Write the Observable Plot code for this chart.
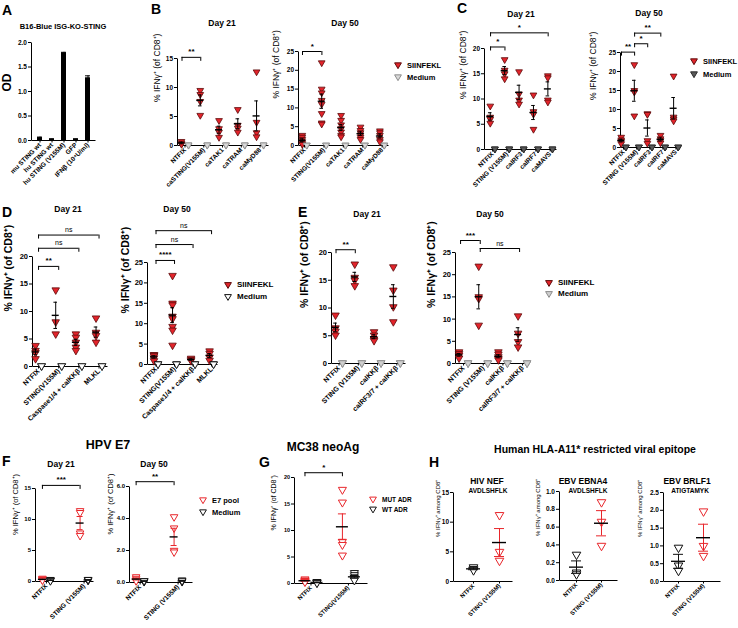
<!DOCTYPE html>
<html><head><meta charset="utf-8">
<script src="https://cdn.jsdelivr.net/npm/d3@7"></script>
<script src="https://cdn.jsdelivr.net/npm/@observablehq/plot@0.6"></script>
<style>
body{margin:0;background:#fff;}
#fig{position:relative;width:738px;height:628px;overflow:hidden;font-family:"Liberation Sans",Arial,Helvetica,sans-serif;color:#000;background:#fff;}
.t{position:absolute;white-space:nowrap;font-weight:bold;line-height:1;}
#fig svg{position:absolute;overflow:visible;}
</style></head><body><div id="fig"></div>
<script>
// ---------- DATA ----------
// Panel A
const aCategories = ["mu STING wt","hu STING wt","hu STING (V155M)","GFP","IFNβ (10⁴U/ml)"];
const aOD = [0.06,0.03,1.79,0.03,1.28];
const aErr = [0.01,0.005,0.01,0.005,0.04];
const aTicks = [0,0.5,1,1.5,2];
// Panel B
const bCats21 = ["NTFIX","caSTING(V155M)","caTAK1","caTRAM","caMyD88"];
const bSiin21 = [[0.7,0.4,0.2],[9.5,8.8,7.6,5.2],[4.3,2.9,2.3,1.4],[6.2,3.5,3.0,2.3],[12.7,4.0,2.2,1.5]];
const bMed21 = [[0.1,0.05,0.1],[0.1,0.05,0.1],[0.1,0.05,0.1],[0.1,0.05,0.1],[0.1,0.05,0.1]];
const bCats50 = ["NTFIX","STING(V155M)","caTAK1","caTRAM","caMyD88"];
const bSiin50 = [[2.7,2.2,1.6,1.0,0.5,0.3],[22,15,14,12,11,8.5,6,5.7],[8.0,6.7,5.5,4.5,3.6,2.7,2.3],[4.9,4.0,3.4,2.8,2.2,1.6],[3.9,3.4,2.7,1.6,1.0]];
const bMed50 = [[0.1,0.05,0.1],[0.1,0.05,0.1],[0.1,0.05,0.1],[0.1,0.05,0.1],[0.1,0.05,0.1]];
const bBr21 = [{from:"NTFIX",to:"caSTING(V155M)",y:15.2,label:"**"}];
const bBr50 = [{from:"NTFIX",to:"STING(V155M)",y:25,label:"*"}];
// Panel C
const cCats = ["NTFIX","STING (V155M)","caIRF3","caIRF7","caMAVS"];
const cSiin21 = [[8.6,6.4,6.0,5.2],[17.8,15.7,15.0,14.0],[15.4,11.0,9.8,9.0],[10.8,7.5,7.0,4.0],[14.6,14.2,9.8,9.4]];
const cMed21 = [[0.1,0.1,0.1],[0.1,0.1,0.1],[0.1,0.1,0.1],[0.1,0.1,0.1],[0.1,0.1,0.1]];
const cSiin50 = [[2.7,2.0,1.6,1.0],[21.8,15.0,14.6,8.3],[8.9,8.7,1.8,1.1],[3.2,2.3,1.8,1.2],[18.8,8.0,7.5,7.0]];
const cMed50 = [[0.1,0.1,0.1],[0.1,0.1,0.1],[0.1,0.1,0.1],[0.1,0.1,0.1],[0.1,0.1,0.1]];
const cBr21 = [{from:"NTFIX",to:"STING (V155M)",y:20.3,label:"*"},{from:"NTFIX",to:"caMAVS",y:23.1,label:"*"}];
const cBr50 = [{from:"NTFIX",to:"STING (V155M)",y:25.1,label:"**"},{from:"STING (V155M)",to:"caIRF3",y:27.3,label:"*"},{from:"STING (V155M)",to:"caIRF7",y:30.1,label:"**"}];
// Panel D
const dCats = ["NTFIX","STING(V155M)","Caspase1/4 + caIKKβ","MLKL"];
const dSiin21 = [[3.8,2.9,2.5,1.4],[13.9,8.1,5.9],[5.9,5.3,4.4,3.5,2.9],[8.8,6.2,5.6,4.4]];
const dMed21 = [[0.1,0.1,0.1],[0.1,0.1,0.1],[0.1,0.1,0.1],[0.1,0.1,0.1]];
const dSiin50 = [[2.4,2.3,2.1,1.6,0.9],[21.8,15.0,14.6,11.8,11.2,9.3,8.4,4.7],[1.5,1.2,0.9],[3.3,2.7,1.8,1.0]];
const dMed50 = [[0.1,0.1,0.1],[0.1,0.1,0.1],[0.1,0.1,0.1],[0.1,0.1,0.1]];
const dBr21 = [{from:"NTFIX",to:"STING(V155M)",y:18.2,label:"**"},{from:"NTFIX",to:"Caspase1/4 + caIKKβ",y:21.5,label:"ns"},{from:"NTFIX",to:"MLKL",y:23.9,label:"ns"}];
const dBr50 = [{from:"NTFIX",to:"STING(V155M)",y:25.5,label:"****"},{from:"NTFIX",to:"Caspase1/4 + caIKKβ",y:29.4,label:"ns"},{from:"NTFIX",to:"MLKL",y:32.8,label:"ns"}];
// Panel E
const eCats = ["NTFIX","STING (V155M)","caIKKβ","caIRF3/7 + caIKKβ"];
const eSiin21 = [[8.7,6.4,5.8,5.1],[17.9,15.5,15.0,14.0],[5.7,5.1,4.4,4.1],[17.4,13.2,10.2,7.5]];
const eMed21 = [[0.1,0.1,0.1],[0.1,0.1,0.1],[0.1,0.1,0.1],[0.1,0.1,0.1]];
const eSiin50 = [[2.6,2.2,1.8,1.2],[21.9,15.0,14.6,8.6],[2.6,2.1,1.5,1.1,0.8],[10.7,6.8,4.9,3.7]];
const eMed50 = [[0.1,0.1,0.1],[0.1,0.1,0.1],[0.1,0.1,0.1],[0.1,0.1,0.1]];
const eBr21 = [{from:"NTFIX",to:"STING (V155M)",y:20.5,label:"**"}];
const eBr50 = [{from:"NTFIX",to:"STING (V155M)",y:27.7,label:"***"},{from:"STING (V155M)",to:"caIRF3/7 + caIKKβ",y:25.9,label:"ns"}];
// Panel F
const fCats = ["NTFIX","STING (V155M)"];
const fE7_21 = [[0.5,0.4,0.3,0.2],[11.4,11.1,7.8,7.4]];
const fMed21 = [[0.3,0.2,0.2,0.1],[0.3,0.2,0.2,0.3]];
const fE7_50 = [[0.35,0.25,0.15,0.1],[4.1,3.4,2.0,1.9]];
const fMed50 = [[0.1,0.1,0.05,0.1],[0.1,0.15,0.05,0.1]];
const fBr21 = [{from:"NTFIX",to:"STING (V155M)",y:15.5,label:"***"}];
const fBr50 = [{from:"NTFIX",to:"STING (V155M)",y:6.3,label:"**"}];
// Panel G
const gCats = ["NTFIX","STING(V155M)"];
const gMut = [[0.8,0.6,0.5,0.4,0.3],[17.7,15.3,7.9,7.3,5.3]];
const gWt = [[0.3,0.2,0.2,0.1],[2.0,1.6,1.2,0.9,0.6]];
const gBr = [{from:"NTFIX",to:"STING(V155M)",y:20.9,label:"*"}];
// Panel H
const hCats = ["NTFIX","STING (V155M)"];
const hNefNT = [2.4,2.1,1.9], hNefST = [11.2,5.0,3.5];
const hEbnaNT = [0.29,0.09,0.07], hEbnaST = [0.88,0.66,0.39];
const hBrlfNT = [0.95,0.45,0.3], hBrlfST = [1.97,1.0,0.72];

// ---------- STYLE ----------
const FONT = '"Liberation Sans", Arial, Helvetica, sans-serif';
const RED = "#e3242b", REDS = "#5c0a0a", OPENRED = "#e8262b";
const YLAB = "% IFNγ⁺ (of CD8⁺)";
const YLABH = "% IFNγ⁺ among CD8⁺";
const fig = document.getElementById("fig");

function txt(s, x, y, size, center = true, weight = "bold") {
  const d = document.createElement("div");
  d.className = "t";
  d.textContent = s;
  d.style.left = x + "px"; d.style.top = y + "px";
  d.style.fontSize = size + "px"; d.style.fontWeight = weight;
  d.style.transform = center ? "translate(-50%,-50%)" : "translate(0,-50%)";
  fig.appendChild(d);
}
function legend(x, y, label, fill, stroke, size) {
  const d = document.createElement("div");
  d.className = "t";
  d.style.left = x + "px"; d.style.top = y + "px"; d.style.fontSize = size + "px";
  d.style.transform = "translate(0,-50%)";
  d.style.display = "flex"; d.style.alignItems = "center";
  d.innerHTML = `<svg width="8" height="7" style="position:static;margin-right:5px"><polygon points="0.6,0.6 7.4,0.6 4,6.4" fill="${fill}" stroke="${stroke}" stroke-width="1"/></svg><span>${label}</span>`;
  fig.appendChild(d);
}
function place(svg, x, y) { svg.style.left = x + "px"; svg.style.top = y + "px"; fig.appendChild(svg); }

function scatter(o) {
  const W = o.right - o.left, H = o.bottom - o.top;
  const mL = 45, mR = 10, mT = 40, mB = 75;
  const step = W / (o.xDomain[1] - o.xDomain[0]);
  const cap = (o.cap ?? 1.8) / step, mw = (o.meanW ?? 3.5) / step;
  const marks = [Plot.frame({fill: "none", stroke: "#000", strokeWidth: 1, strokeDasharray: `0,${W + H},${W + H}`})];
  for (const s of o.series) {
    const rows = [], summ = [];
    s.values.forEach((vals, i) => {
      if (!vals.length) return;
      vals.forEach(v => rows.push({i, v}));
      const m = d3.mean(vals), se = vals.length > 1 ? d3.deviation(vals) / Math.sqrt(vals.length) : 0;
      summ.push({i, m, lo: Math.max(0, m - se), hi: m + se});
    });
    marks.push(Plot.dot(rows, {x: "i", y: "v", symbol: "triangle", rotate: 180, r: o.r ?? 2.5, fill: s.fill, stroke: s.stroke, strokeWidth: s.sw ?? 0.8, dx: s.dx}));
    if (s.err !== false) {
      const ec = s.errColor ?? "#000";
      marks.push(Plot.ruleX(summ, {x: "i", y1: "lo", y2: "hi", stroke: ec, strokeWidth: 1, dx: s.dx}));
      marks.push(Plot.ruleY(summ, {y: "lo", x1: d => d.i - cap, x2: d => d.i + cap, stroke: ec, strokeWidth: 1, dx: s.dx}));
      marks.push(Plot.ruleY(summ, {y: "hi", x1: d => d.i - cap, x2: d => d.i + cap, stroke: ec, strokeWidth: 1, dx: s.dx}));
      marks.push(Plot.ruleY(summ, {y: "m", x1: d => d.i - mw, x2: d => d.i + mw, stroke: s.meanColor ?? "#000", strokeWidth: 1.4, dx: s.dx}));
    }
  }
  if (o.brackets) {
    const br = o.brackets.map(b => ({a: o.cats.indexOf(b.from), b: o.cats.indexOf(b.to), y: b.y, label: b.label}));
    const drop = (o.drop ?? 4) * o.yMax / H;
    const bdx = o.brDx ?? 0;
    marks.push(Plot.ruleY(br, {y: "y", x1: "a", x2: "b", dx: bdx, stroke: "#000", strokeWidth: 1}));
    marks.push(Plot.ruleX(br, {x: "a", y1: d => d.y - drop, y2: "y", dx: bdx, stroke: "#000", strokeWidth: 1}));
    marks.push(Plot.ruleX(br, {x: "b", y1: d => d.y - drop, y2: "y", dx: bdx, stroke: "#000", strokeWidth: 1}));
    marks.push(Plot.text(br.filter(d => d.label !== "ns"), {x: d => (d.a + d.b) / 2, y: "y", text: "label", dy: -3, dx: bdx, fontSize: o.starSize ?? 8, fontWeight: "bold", lineAnchor: "bottom", fill: "#000"}));
    marks.push(Plot.text(br.filter(d => d.label === "ns"), {x: d => (d.a + d.b) / 2, y: "y", text: "label", dy: -3, dx: bdx, fontSize: o.nsSize ?? 7, lineAnchor: "bottom", fill: "#000"}));
  }
  marks.push(Plot.axisX({ticks: o.cats.map((_, i) => i), tickFormat: i => o.cats[i], tickRotate: -45, tickSize: 2.5, tickPadding: 1, fontSize: o.xFont ?? 6.5, fontWeight: "bold", label: null}));
  marks.push(Plot.axisY({ticks: o.yTicks, tickFormat: o.yFmt, tickSize: 3, tickPadding: 1.5, fontSize: o.yFont ?? 6.5, fontWeight: "bold", label: null}));
  marks.push(Plot.text([o.ylabel], {text: d => d, frameAnchor: "left", rotate: -90, dx: -o.labelOffset, fontSize: o.labelSize ?? 8, fontWeight: o.labelWeight ?? "normal", fill: "#000"}));
  const svg = Plot.plot({
    width: W + mL + mR, height: H + mT + mB,
    marginLeft: mL, marginRight: mR, marginTop: mT, marginBottom: mB,
    x: {type: "linear", domain: o.xDomain},
    y: {type: "linear", domain: [0, o.yMax]},
    style: {fontFamily: FONT, background: "transparent", overflow: "visible", color: "#000"},
    marks
  });
  place(svg, o.left - mL, o.top - mT);
}

// ---------- PANEL A ----------
(function () {
  const L = 31, R = 95, T = 42, B = 140, W = R - L, H = B - T;
  const mL = 45, mR = 10, mT = 30, mB = 75;
  const rows = aCategories.map((c, i) => ({c, v: aOD[i], e: aErr[i]}));
  const svg = Plot.plot({
    width: W + mL + mR, height: H + mT + mB,
    marginLeft: mL, marginRight: mR, marginTop: mT, marginBottom: mB,
    x: {type: "band", domain: aCategories, paddingInner: 0.62, paddingOuter: 0.33},
    y: {domain: [0, 2]},
    style: {fontFamily: FONT, background: "transparent", overflow: "visible", color: "#000"},
    marks: [
      Plot.frame({fill: "none", stroke: "#000", strokeWidth: 1, strokeDasharray: `0,${W + H},${W + H}`}),
      Plot.barY(rows, {x: "c", y: "v", fill: "#000"}),
      Plot.ruleX(rows, {x: "c", y1: d => d.v - d.e, y2: d => d.v + d.e, stroke: "#000"}),
      Plot.tickY(rows, {x: "c", y: d => d.v + d.e, stroke: "#000"}),
      Plot.axisX({tickRotate: -45, tickSize: 2.5, tickPadding: 1, fontSize: 6.5, fontWeight: "bold", label: null}),
      Plot.axisY({ticks: aTicks, tickFormat: ".1f", tickSize: 3, tickPadding: 1.5, fontSize: 6.5, fontWeight: "bold", label: null}),
      Plot.text(["OD"], {text: d => d, frameAnchor: "left", rotate: -90, dx: -24, fontSize: 12, fontWeight: "bold", fill: "#000"})
    ]
  });
  place(svg, L - mL, T - mT);
})();

// ---------- PANELS B–H ----------
const medB = {fill: "#d9d9d9", stroke: "#8c8c8c", err: false};
const medC = {fill: "#5a5a5a", stroke: "#2a2a2a", err: false};
const medD = {fill: "#fff", stroke: "#111", err: false};
const medE = {fill: "#cfcfcf", stroke: "#8c8c8c", err: false};
const siin = {fill: RED, stroke: REDS};

scatter({left: 177, right: 268, top: 58, bottom: 145, xDomain: [-0.4, 4.45], cats: bCats21, yMax: 15, yTicks: [0, 5, 10, 15],
  series: [{values: bSiin21, dx: -3.5, ...siin}, {values: bMed21, dx: 3.5, ...medB}], brackets: bBr21, brDx: -3,
  ylabel: YLAB, labelOffset: 20, labelSize: 8.5});
scatter({left: 298, right: 388, top: 51, bottom: 145, xDomain: [-0.31, 4.33], cats: bCats50, yMax: 25, yTicks: [0, 5, 10, 15, 20, 25],
  series: [{values: bSiin50, dx: -2.2, ...siin}, {values: bMed50, dx: 2.2, ...medB}], brackets: bBr50, brDx: -2,
  ylabel: YLAB, labelOffset: 22, labelSize: 8.5});
scatter({left: 484, right: 556, top: 48, bottom: 149, xDomain: [-0.56, 4.44], cats: cCats, yMax: 20, yTicks: [0, 5, 10, 15, 20],
  series: [{values: cSiin21, dx: -2.3, ...siin}, {values: cMed21, dx: 2.3, ...medC}], brackets: cBr21, brDx: -2,
  ylabel: YLAB, labelOffset: 21, labelSize: 8.5});
scatter({left: 620, right: 680, top: 52, bottom: 147, xDomain: [-0.23, 4.35], cats: cCats, yMax: 25, yTicks: [0, 5, 10, 15, 20, 25],
  series: [{values: cSiin50, dx: -2.3, ...siin}, {values: cMed50, dx: 2.3, ...medC}], brackets: cBr50, brDx: -2,
  ylabel: YLAB, labelOffset: 27, labelSize: 8.5});
scatter({left: 32, right: 107, top: 256, bottom: 366, xDomain: [-0.3, 3.42], cats: dCats, yMax: 20, yTicks: [0, 5, 10, 15, 20],
  series: [{values: dSiin21, dx: -3, ...siin}, {values: dMed21, dx: 3, ...medD}], brackets: dBr21, brDx: 0,
  ylabel: YLAB, labelOffset: 24, labelSize: 10.5, labelWeight: "bold", xFont: 7, yFont: 7.5, r: 2.8});
scatter({left: 147, right: 217, top: 262, bottom: 364, xDomain: [-0.46, 3.32], cats: dCats, yMax: 25, yTicks: [0, 5, 10, 15, 20, 25],
  series: [{values: dSiin50, dx: -2, ...siin}, {values: dMed50, dx: 2, ...medD}], brackets: dBr50, brDx: 0,
  ylabel: YLAB, labelOffset: 22, labelSize: 10.5, labelWeight: "bold", xFont: 7, yFont: 7.5, r: 2.8});
scatter({left: 331, right: 405, top: 252, bottom: 363, xDomain: [-0.39, 3.45], cats: eCats, yMax: 20, yTicks: [0, 5, 10, 15, 20],
  series: [{values: eSiin21, dx: -3.5, ...siin}, {values: eMed21, dx: 3.5, ...medE}], brackets: eBr21, brDx: -3,
  ylabel: YLAB, labelOffset: 27, labelSize: 10.5, labelWeight: "bold", xFont: 7, yFont: 7.5, r: 2.8});
scatter({left: 455, right: 527, top: 252, bottom: 363, xDomain: [-0.41, 3.25], cats: eCats, yMax: 25, yTicks: [0, 5, 10, 15, 20, 25],
  series: [{values: eSiin50, dx: -4.5, ...siin}, {values: eMed50, dx: 4.5, ...medE}], brackets: eBr50, brDx: -3,
  ylabel: YLAB, labelOffset: 24, labelSize: 10.5, labelWeight: "bold", xFont: 7, yFont: 7.5, r: 2.8});
const e7 = {fill: "#fff", stroke: OPENRED, errColor: OPENRED, meanColor: "#000", sw: 1};
const blk = {fill: "#fff", stroke: "#111", errColor: "#111", meanColor: "#111", sw: 1};
scatter({left: 35, right: 93, top: 488, bottom: 581, xDomain: [-0.29, 1.25], cats: fCats, yMax: 15, yTicks: [0, 5, 10, 15],
  series: [{values: fE7_21, dx: -4, ...e7}, {values: fMed21, dx: 4, ...blk}], brackets: fBr21, brDx: -4, cap: 3, meanW: 4,
  ylabel: YLAB, labelOffset: 20, labelSize: 7.5, r: 2.8, yFont: 6});
scatter({left: 129, right: 192, top: 486, bottom: 582, xDomain: [-0.28, 1.38], cats: fCats, yMax: 6, yTicks: [0, 2, 4, 6],
  series: [{values: fE7_50, dx: -4, ...e7}, {values: fMed50, dx: 4, ...blk}], brackets: fBr50, brDx: -4, cap: 3, meanW: 4,
  ylabel: YLAB, labelOffset: 19, labelSize: 7.5, r: 2.8, yFont: 6});
scatter({left: 294, right: 367, top: 477, bottom: 583, xDomain: [-0.44, 1.51], cats: gCats, yMax: 20, yTicks: [0, 5, 10, 15, 20],
  series: [{values: gMut, dx: -6, ...e7}, {values: gWt, dx: 6, ...blk}], brackets: gBr, brDx: -6, cap: 4, meanW: 6,
  ylabel: YLAB, labelOffset: 21, labelSize: 7, r: 3, yFont: 5.5, xFont: 6});
scatter({left: 453, right: 512, top: 492, bottom: 581, xDomain: [-0.77, 1.5], cats: hCats, yMax: 15, yTicks: [0, 5, 10, 15],
  series: [{values: [hNefNT, []], dx: 0, ...blk}, {values: [[], hNefST], dx: 0, ...e7}], cap: 5, meanW: 7,
  ylabel: YLABH, labelOffset: 15, labelSize: 6, r: 3.2, yFont: 6.5, xFont: 6});
scatter({left: 559, right: 617, top: 491, bottom: 580, xDomain: [-0.68, 1.64], cats: hCats, yMax: 1, yTicks: [0, 0.2, 0.4, 0.6, 0.8, 1.0], yFmt: ".1f",
  series: [{values: [hEbnaNT, []], dx: 0, ...blk}, {values: [[], hEbnaST], dx: 0, ...e7}], cap: 5, meanW: 7,
  ylabel: YLABH, labelOffset: 21, labelSize: 6, r: 3.2, yFont: 6.5, xFont: 6});
scatter({left: 663, right: 720, top: 492, bottom: 581, xDomain: [-0.6, 1.68], cats: hCats, yMax: 2.5, yTicks: [0, 0.5, 1, 1.5, 2, 2.5], yFmt: ".1f",
  series: [{values: [hBrlfNT, []], dx: 0, ...blk}, {values: [[], hBrlfST], dx: 0, ...e7}], cap: 5, meanW: 7,
  ylabel: YLABH, labelOffset: 23, labelSize: 6, r: 3.2, yFont: 6.5, xFont: 6});

// ---------- TEXT ----------
txt("A", 2, 10, 14, false); txt("B", 151, 9, 14, false); txt("C", 457, 8, 14, false);
txt("D", 2, 212, 14, false); txt("E", 298, 212, 14, false);
txt("F", 2, 461, 14, false); txt("G", 259, 462, 14, false); txt("H", 429, 462, 14, false);
txt("B16-Blue ISG-KO-STING", 63, 27, 7.5);
txt("Day 21", 222, 23, 8.5); txt("Day 50", 345, 23, 8.5);
txt("Day 21", 521, 14, 8.5); txt("Day 50", 649, 13, 8.5);
txt("Day 21", 68, 209, 8.5); txt("Day 50", 177, 209, 8.5);
txt("Day 21", 367, 214, 8.5); txt("Day 50", 490, 214, 8.5);
txt("HPV E7", 108, 445, 12.5);
txt("Day 21", 61, 464, 8.5); txt("Day 50", 154, 464, 8.5);
txt("MC38 neoAg", 323, 447, 12);
txt("Human HLA-A11* restricted viral epitope", 595, 449, 10.5);
txt("HIV NEF", 487, 481, 8.5); txt("AVDLSHFLK", 488, 490.5, 6.5);
txt("EBV EBNA4", 583, 481, 8.5); txt("AVDLSHFLK", 588, 490.5, 6.5);
txt("EBV BRLF1", 687, 481, 8.5); txt("ATIGTAMYK", 690, 490.5, 6.5);

// ---------- LEGENDS ----------
legend(394, 66, "SIINFEKL", RED, REDS, 7.5); legend(394, 78, "Medium", "#d9d9d9", "#8c8c8c", 7.5);
legend(690, 62, "SIINFEKL", RED, REDS, 7.5); legend(690, 75, "Medium", "#5a5a5a", "#2a2a2a", 7.5);
legend(224, 285, "SIINFEKL", RED, REDS, 8); legend(224, 297, "Medium", "#fff", "#111", 8);
legend(545, 283, "SIINFEKL", RED, REDS, 8); legend(545, 294, "Medium", "#cfcfcf", "#8c8c8c", 8);
legend(199, 501, "E7 pool", "#fff", OPENRED, 7.5); legend(199, 513, "Medium", "#fff", "#111", 7.5);
legend(369, 500, "MUT ADR", "#fff", OPENRED, 6.5); legend(369, 510, "WT ADR", "#fff", "#111", 6.5);
</script></body></html>
